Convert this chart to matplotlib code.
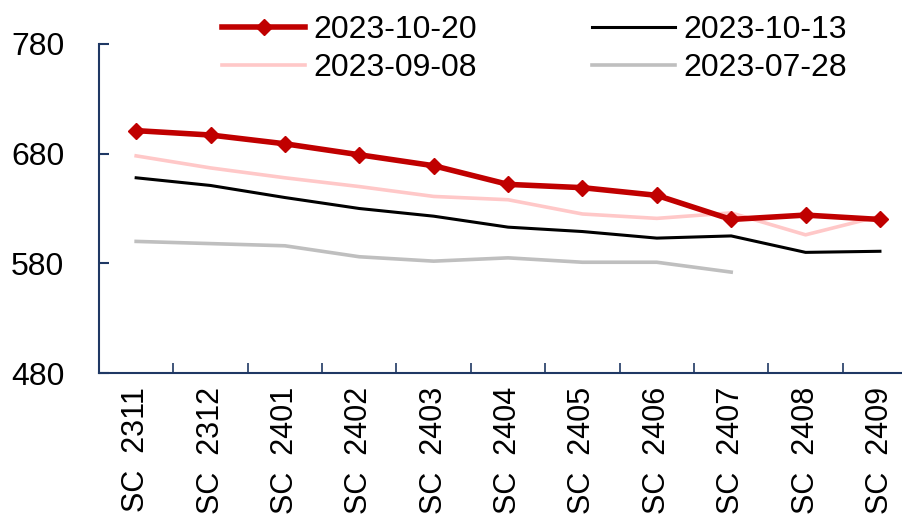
import matplotlib
matplotlib.use("Agg")
import matplotlib.pyplot as plt
from matplotlib.ticker import FixedLocator, NullFormatter

# ─── Data ─────────────────────────────────────────────────────────────────────
contracts = ["SC  2311", "SC  2312", "SC  2401", "SC  2402", "SC  2403", "SC  2404",
             "SC  2405", "SC  2406", "SC  2407", "SC  2408", "SC  2409"]
s_1020 = [701, 697, 689, 679, 669, 652, 649, 642, 620, 624, 620]
s_1013 = [658, 651, 640, 630, 623, 613, 609, 603, 605, 590, 591]
s_0908 = [678, 667, 658, 650, 641, 638, 625, 621, 626, 606, 623]
s_0728 = [600, 598, 596, 586, 582, 585, 581, 581, 572]

NAVY = "#1F3864"
FONT = ["Liberation Sans", "DejaVu Sans"]

fig = plt.figure(figsize=(9.03, 5.25), dpi=100)
ax = fig.add_axes([0.1096, 0.2895, 0.8904, 0.6267])

x = list(range(len(contracts)))
l1, = ax.plot(x, s_1020, color="#C00000", lw=4.0, marker="D", ms=8, label="2023-10-20", zorder=5)
l2, = ax.plot(x, s_1013, color="black", lw=2.2, label="2023-10-13", zorder=4)
l3, = ax.plot(x, s_0908, color="#FFC8C8", lw=2.6, label="2023-09-08", zorder=3)
l4, = ax.plot(x[:len(s_0728)], s_0728, color="#BFBFBF", lw=2.6, label="2023-07-28", zorder=2)

ax.set_xlim(-0.5, 10.31)
ax.set_ylim(480, 780)

for side in ("top", "right"):
    ax.spines[side].set_visible(False)
for side in ("left", "bottom"):
    ax.spines[side].set_color(NAVY)
    ax.spines[side].set_linewidth(1.5)

ax.set_yticks([480, 580, 680, 780])
ax.tick_params(axis="y", direction="in", length=7, width=1.5, color=NAVY, pad=25)
for t in ax.get_yticklabels():
    t.set_family(FONT)
    t.set_fontsize(23)

# category labels at centres, boundary ticks between them
ax.set_xticks(x)
ax.set_xticklabels(contracts, rotation=90, fontsize=22, family=FONT)
ax.tick_params(axis="x", which="major", length=0, pad=10)
ax.xaxis.set_minor_locator(FixedLocator([i + 0.5 for i in x]))
ax.xaxis.set_minor_formatter(NullFormatter())
ax.tick_params(axis="x", which="minor", direction="in", length=7, width=1.2, color=NAVY)

# legend fills column-first, so order handles to read row by row
fig.legend([l1, l3, l2, l4], [l.get_label() for l in (l1, l3, l2, l4)],
           loc="upper left", bbox_to_anchor=(0.232, 0.995), ncol=2, frameon=False,
           prop={"family": FONT, "size": 23}, handlelength=2.6, handletextpad=0.25,
           columnspacing=3.6, labelspacing=0.25, borderaxespad=0)

fig.savefig("out.png", dpi=100)
